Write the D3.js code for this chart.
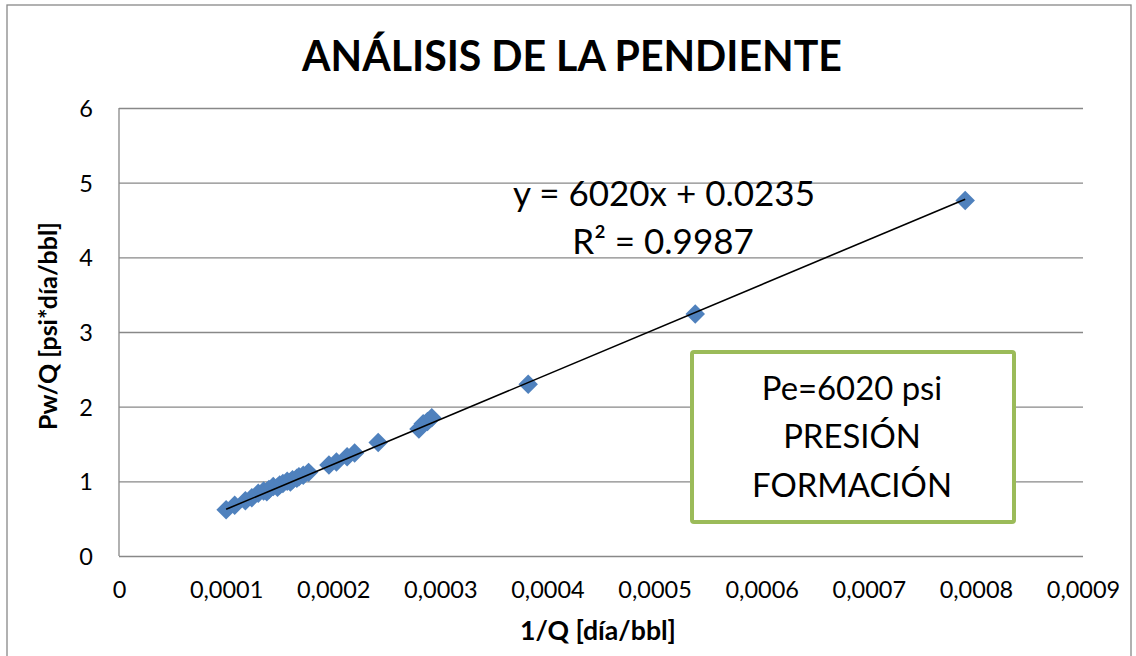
<!DOCTYPE html>
<html><head><meta charset="utf-8">
<script src="https://cdn.jsdelivr.net/npm/d3@7"></script>
<style>body{margin:0;background:#fff} svg{display:block} text{font-family:Lato,"Open Sans",sans-serif;fill:#000}</style>
</head><body><svg id="c" width="1136" height="656"></svg>
<script>
// ---- data ----
const xValues = [0.000100, 0.000108, 0.000118, 0.000124, 0.000130, 0.000135, 0.000138, 0.000140, 0.000144, 0.000148, 0.000150, 0.000153, 0.000157, 0.000160, 0.000162, 0.000166, 0.000168, 0.000172, 0.000177, 0.000196, 0.000203, 0.000213, 0.000220, 0.000242, 0.000280, 0.000284, 0.000288, 0.000292, 0.000382, 0.000538, 0.000790];
const yValues = [0.62, 0.68, 0.74, 0.78, 0.84, 0.87, 0.86, 0.89, 0.93, 0.92, 0.95, 0.97, 1.00, 0.99, 1.02, 1.04, 1.06, 1.08, 1.12, 1.22, 1.26, 1.33, 1.38, 1.52, 1.70, 1.77, 1.80, 1.85, 2.30, 3.24, 4.76];
const xTickValues = [0, 0.0001, 0.0002, 0.0003, 0.0004, 0.0005, 0.0006, 0.0007, 0.0008, 0.0009];
const xTickLabels = ["0", "0,0001", "0,0002", "0,0003", "0,0004", "0,0005", "0,0006", "0,0007", "0,0008", "0,0009"];
const yTickValues = [0, 1, 2, 3, 4, 5, 6];
const yTickLabels = ["0", "1", "2", "3", "4", "5", "6"];
const trendSlope = 6020;
const trendIntercept = 0.0235;
const equationText = "y = 6020x + 0.0235";
const r2Text = "R² = 0.9987";
const titleText = "ANÁLISIS DE LA PENDIENTE";
const xTitle = "1/Q [día/bbl]";
const yTitle = "Pw/Q [psi*día/bbl]";
const boxLines = ["Pe=6020 psi", "PRESIÓN", "FORMACIÓN"];

// ---- layout ----
const svg = d3.select("#c");
const L = 119, R = 1083, T = 108, B = 556;
const x = d3.scaleLinear().domain([0, 0.0009]).range([L, R]);
const y = d3.scaleLinear().domain([0, 6]).range([B, T]);
const gridColor = "#888888";

function fit(sel, w) {
  const len = sel.node().getComputedTextLength();
  const fs = parseFloat(sel.attr("font-size"));
  const nfs = fs * w / len;
  sel.attr("font-size", nfs);
  return nfs;
}

// outer border
svg.append("rect").attr("x", 7).attr("y", 5).attr("width", 1124).attr("height", 660)
  .attr("fill", "#fff").attr("stroke", gridColor).attr("stroke-width", 1.3);

// gridlines + y ticks
const yAxis = d3.axisLeft(y).tickValues(yTickValues).tickSize(-(R - L)).tickFormat((d, i) => yTickLabels[i]).tickPadding(26);
const gy = svg.append("g").attr("transform", `translate(${L},0)`).call(yAxis);
gy.select(".domain").remove();
gy.selectAll(".tick line").attr("stroke", gridColor).attr("stroke-width", 1.3);
gy.selectAll(".tick text").attr("font-size", 23.5).attr("font-family", "Lato").attr("fill", "#000").attr("dy", "0.36em");

// left axis line
svg.append("line").attr("x1", L).attr("x2", L).attr("y1", T).attr("y2", B)
  .attr("stroke", gridColor).attr("stroke-width", 1.3);

const xAxis = d3.axisBottom(x).tickValues(xTickValues).tickSize(0).tickFormat((d, i) => xTickLabels[i]).tickPadding(25);
const gx = svg.append("g").attr("transform", `translate(0,${B})`).call(xAxis);
gx.select(".domain").remove();
gx.selectAll(".tick text").attr("font-size", 23.5).attr("font-family", "Lato").attr("fill", "#000");

// markers
const xmin = d3.min(xValues), xmax = d3.max(xValues);
svg.append("g").selectAll("path").data(xValues.map((v, i) => [v, yValues[i]])).join("path")
  .attr("d", d3.symbol().type(d3.symbolSquare).size(190))
  .attr("transform", d => `translate(${x(d[0])},${y(d[1])}) rotate(45)`)
  .attr("fill", "#4F81BD");

// trendline (drawn above markers)
svg.append("line")
  .attr("x1", x(xmin)).attr("y1", y(trendSlope * xmin + trendIntercept))
  .attr("x2", x(xmax)).attr("y2", y(trendSlope * xmax + trendIntercept))
  .attr("stroke", "#000").attr("stroke-width", 1.6);

// title
const t = svg.append("text").attr("x", 572).attr("y", 71).attr("text-anchor", "middle")
  .attr("font-weight", "bold").attr("font-size", 40).text(titleText);
fit(t, 540);

// equation
const eq = svg.append("text").attr("x", 664).attr("y", 206).attr("text-anchor", "middle")
  .attr("font-size", 30).text(equationText);
const eqfs = fit(eq, 302);
svg.append("text").attr("x", 663).attr("y", 254).attr("text-anchor", "middle")
  .attr("font-size", eqfs).text(r2Text);

// axis titles
const xt = svg.append("text").attr("x", 598).attr("y", 640).attr("text-anchor", "middle")
  .attr("font-weight", "bold").attr("font-size", 20).text(xTitle);
fit(xt, 156);
const yt = svg.append("text").attr("transform", "translate(57,326) rotate(-90)").attr("text-anchor", "middle")
  .attr("font-weight", "bold").attr("font-size", 20).text(yTitle);
fit(yt, 208);

// annotation box
svg.append("rect").attr("x", 692).attr("y", 352).attr("width", 322).attr("height", 170).attr("rx", 2)
  .attr("fill", "#fff").attr("stroke", "#9BBB59").attr("stroke-width", 4);
const boxY = [400, 448, 497];
const bt = svg.append("g").selectAll("text").data(boxLines).join("text")
  .attr("x", 852).attr("y", (d, i) => boxY[i]).attr("text-anchor", "middle")
  .attr("font-size", 36).text(d => d);
const widest = bt.filter((d, i) => i === 2);
const bfs = fit(widest, 200);
bt.attr("font-size", bfs);
</script></body></html>
